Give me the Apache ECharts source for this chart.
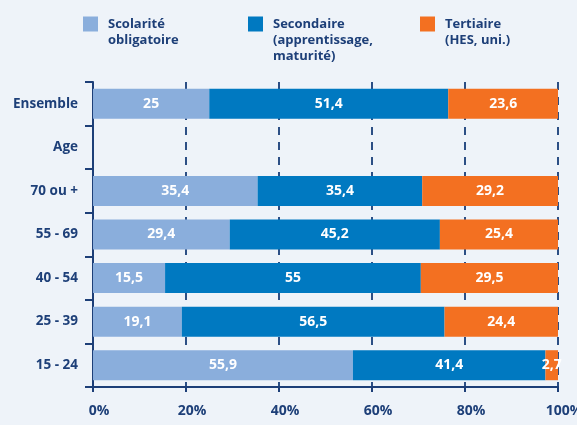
<!DOCTYPE html>
<html>
<head>
<meta charset="utf-8">
<script src="https://cdn.jsdelivr.net/npm/echarts@6/dist/echarts.min.js"></script>
<style>html,body{margin:0;padding:0;}#c{width:577px;height:425px;}</style>
</head>
<body>
<div id="c"></div>
<script>
var categories = ['Ensemble', 'Age', '70 ou +', '55 - 69', '40 - 54', '25 - 39', '15 - 24'];
var scolarite = [25, null, 35.4, 29.4, 15.5, 19.1, 55.9];
var secondaire = [51.4, null, 35.4, 45.2, 55, 56.5, 41.4];
var tertiaire = [23.6, null, 29.2, 25.4, 29.5, 24.4, 2.7];
var xTicks = ['0%', '20%', '40%', '60%', '80%', '100%'];
var seriesNames = ['Scolarité obligatoire', 'Secondaire (apprentissage, maturité)', 'Tertiaire (HES, uni.)'];
var legendLines = [['Scolarité', 'obligatoire'], ['Secondaire', '(apprentissage,', 'maturité)'], ['Tertiaire', '(HES, uni.)']];

var navy = '#1d3f78';
var colors = ['#8aaedc', '#0079c1', '#f37021'];
var font = "'Open Sans', 'DejaVu Sans', sans-serif";
var LH = 16;

function mkSeries(name, data, color) {
  return {
    name: name, type: 'bar', stack: 'total', barWidth: 30,
    itemStyle: { color: color },
    data: data.map(function (v) { return v == null ? '-' : v; }),
    label: {
      show: true, position: 'inside', color: '#fff', fontWeight: 'bold', fontSize: 14, fontFamily: font,
      formatter: function (p) { return String(p.value).replace('.', ','); }
    }
  };
}

function mkLegend(i, left) {
  var lines = legendLines[i];
  var pad = lines.length - 1; // blank lines above so that the first line is centred on the icon
  var all = [];
  for (var k = 0; k < pad; k++) all.push(' ');
  all = all.concat(lines);
  var firstCenter = 24;
  var top = firstCenter - (pad + 0.5) * LH;
  return {
    data: [seriesNames[i]], left: left, top: top, itemWidth: 15, itemHeight: 15, itemGap: 0,
    icon: 'rect', selectedMode: false, padding: 0,
    formatter: function () { return all.join('\n'); },
    textStyle: { color: navy, fontWeight: 'bold', fontSize: 13, fontFamily: font, lineHeight: LH, padding: [0, 0, 0, 5] }
  };
}

var chart = echarts.init(document.getElementById('c'));
chart.setOption({
  backgroundColor: '#eef3f9',
  animation: false,
  color: colors,
  legend: [mkLegend(0, 83), mkLegend(1, 248), mkLegend(2, 420)],
  grid: { left: 93, right: 19, top: 82, bottom: 38, containLabel: false, outerBoundsMode: 'none' },
  xAxis: {
    type: 'value', min: 0, max: 100, interval: 20,
    axisLine: { show: true, lineStyle: { color: navy, width: 2 } },
    axisTick: { show: true, length: 5, lineStyle: { color: navy, width: 2 } },
    splitLine: { show: true, lineStyle: { color: '#2c4f85', width: 2, type: [8, 7] } },
    axisLabel: {
      color: navy, fontWeight: 'bold', fontSize: 14, fontFamily: font, margin: 17,
      padding: [0, 0, 0, 12],
      formatter: function (v) { return xTicks[v / 20]; }
    }
  },
  yAxis: {
    type: 'category', data: categories, inverse: true,
    axisLine: { show: true, lineStyle: { color: navy, width: 2 } },
    axisTick: { show: true, length: 8, lineStyle: { color: navy, width: 2 } },
    axisLabel: { color: navy, fontWeight: 'bold', fontSize: 13.5, fontFamily: font, margin: 15 }
  },
  series: [
    mkSeries(seriesNames[0], scolarite, colors[0]),
    mkSeries(seriesNames[1], secondaire, colors[1]),
    mkSeries(seriesNames[2], tertiaire, colors[2])
  ]
});
</script>
</body>
</html>
